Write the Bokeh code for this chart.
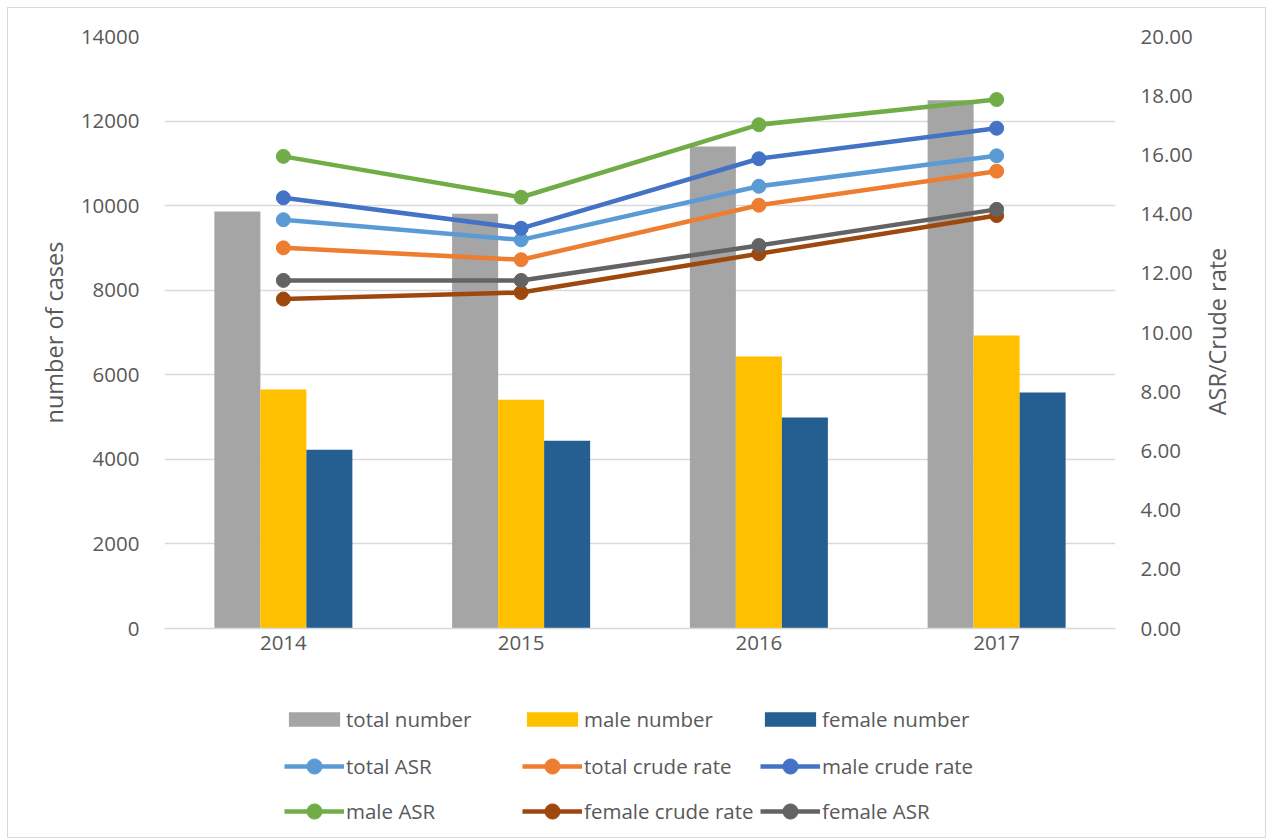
import math
from bokeh.plotting import figure
from bokeh.layouts import column, row
from bokeh.models import (FactorRange, Range1d, LinearAxis, SingleIntervalTicker,
                          NumeralTickFormatter, Legend, LegendItem, Label)
from bokeh.transform import dodge
from bokeh.embed import file_html
from bokeh.resources import INLINE

years = ["2014", "2015", "2016", "2017"]
total_number = [9860, 9810, 11400, 12490]
male_number = [5650, 5410, 6430, 6930]
female_number = [4230, 4440, 4990, 5580]

total_asr = [13.81, 13.13, 14.94, 15.97]
total_crude_rate = [12.86, 12.46, 14.30, 15.45]
male_crude_rate = [14.55, 13.52, 15.87, 16.90]
male_asr = [15.95, 14.57, 17.02, 17.87]
female_crude_rate = [11.13, 11.35, 12.66, 13.95]
female_asr = [11.76, 11.76, 12.94, 14.16]

bar_series = [("total_number", "total number", "#a5a5a5"),
              ("male_number", "male number", "#ffc000"),
              ("female_number", "female number", "#255e91")]
line_series = [("total_asr", "total ASR", "#5b9bd5"),
               ("total_crude_rate", "total crude rate", "#ed7d31"),
               ("male_crude_rate", "male crude rate", "#4472c4"),
               ("male_asr", "male ASR", "#70ad47"),
               ("female_crude_rate", "female crude rate", "#9e480e"),
               ("female_asr", "female ASR", "#636363")]

FONT = "Open Sans"
TXT = "#595959"
GRID = "#d9d9d9"

p = figure(x_range=FactorRange(*years), y_range=Range1d(0, 14000),
           frame_width=951, frame_height=592, output_backend="svg", toolbar_location=None,
           min_border_left=156, min_border_right=80, min_border_top=28, min_border_bottom=60)
p.outline_line_color = None
p.extra_y_ranges = {"rate": Range1d(0, 20)}

p.xgrid.grid_line_color = None
p.ygrid.grid_line_color = GRID
p.ygrid.grid_line_width = 1.3

# left axis
p.yaxis.ticker = SingleIntervalTicker(interval=2000)
p.yaxis.formatter = NumeralTickFormatter(format="0")
p.yaxis.axis_line_color = None
p.yaxis.major_tick_line_color = None
p.yaxis.major_tick_out = 0
p.yaxis.major_tick_in = 0
p.yaxis.minor_tick_line_color = None
p.yaxis.major_label_standoff = 21
p.yaxis.major_label_text_font = FONT
p.yaxis.major_label_text_font_size = "20.5px"
p.yaxis.major_label_text_color = TXT
p.yaxis.axis_label = "number of cases"
p.yaxis.axis_label_text_font = FONT
p.yaxis.axis_label_text_font_size = "23.5px"
p.yaxis.axis_label_text_font_style = "normal"
p.yaxis.axis_label_text_color = TXT
p.yaxis.axis_label_standoff = 8

# x axis
p.xaxis.axis_line_color = GRID
p.xaxis.axis_line_width = 1.3
p.xaxis.major_tick_line_color = None
p.xaxis.major_tick_out = 0
p.xaxis.major_tick_in = 0
p.xaxis.minor_tick_line_color = None
p.xaxis.major_label_standoff = 7
p.xaxis.major_label_text_font = FONT
p.xaxis.major_label_text_font_size = "20.5px"
p.xaxis.major_label_text_color = TXT

# right axis
ra = LinearAxis(y_range_name="rate", ticker=SingleIntervalTicker(interval=2),
                formatter=NumeralTickFormatter(format="0.00"))
ra.axis_line_color = None
ra.major_tick_line_color = None
ra.major_tick_out = 0
ra.major_tick_in = 0
ra.minor_tick_line_color = None
ra.major_label_standoff = 21
ra.major_label_text_font = FONT
ra.major_label_text_font_size = "20.5px"
ra.major_label_text_color = TXT
p.add_layout(ra, "right")

src = dict(year=years, total_number=total_number, male_number=male_number,
           female_number=female_number, total_asr=total_asr,
           total_crude_rate=total_crude_rate, male_crude_rate=male_crude_rate,
           male_asr=male_asr, female_crude_rate=female_crude_rate, female_asr=female_asr)

bw = 0.1935
offsets = [-bw, 0.0, bw]
for (key, _, col), off in zip(bar_series, offsets):
    p.vbar(x=dodge("year", off, range=p.x_range), top=key, width=bw, bottom=0,
           source=src, fill_color=col, line_color=None)

for key, _, col in line_series:
    p.line(x="year", y=key, source=src, line_color=col, line_width=4.5, y_range_name="rate")
    p.scatter(x="year", y=key, source=src, size=14, fill_color=col, line_color=col,
              y_range_name="rate")

# right axis title (reads bottom-to-top); its frame is aligned with the main frame
rl = figure(width=70, height=680, output_backend="svg", toolbar_location=None,
            x_range=Range1d(0, 1), y_range=Range1d(0, 1),
            x_axis_location=None, y_axis_location=None, min_border=0)
rl.grid.visible = False
rl.outline_line_color = None
rl.add_layout(Label(x=21, y=297, x_units="screen", y_units="screen", text="ASR/Crude rate",
                    angle=math.pi / 2, text_align="center", text_baseline="middle",
                    text_font=FONT, text_font_size="23.5px", text_color=TXT))

# legend area (swatch renderers sit outside the visible range)
lf = figure(width=1257, height=149, output_backend="svg", toolbar_location=None,
            x_range=Range1d(0, 1), y_range=Range1d(0, 1),
            x_axis_location=None, y_axis_location=None, min_border=0)
lf.grid.visible = False
lf.outline_line_color = None

bar_items = []
for key, lab, col in bar_series:
    r = lf.vbar(x=[-5], top=[-5], bottom=[-6], width=0.1, fill_color=col, line_color=None)
    bar_items.append(LegendItem(label=lab, renderers=[r]))
line_items = []
for key, lab, col in line_series:
    l = lf.line(x=[-5, -4], y=[-5, -5], line_color=col, line_width=4.5)
    s = lf.scatter(x=[-5], y=[-5], size=14, fill_color=col, line_color=col)
    line_items.append(LegendItem(label=lab, renderers=[l, s]))

legend_style = dict(orientation="horizontal", label_height=18, label_width=172,
                    padding=0, margin=0, border_line_color=None, background_fill_alpha=0,
                    label_text_font=FONT, label_text_font_size="20.5px",
                    label_text_color=TXT)
lf.add_layout(Legend(items=bar_items, location=(274, 104), glyph_width=64, glyph_height=18,
                     label_standoff=0, spacing=2, **legend_style), "center")
lf.add_layout(Legend(items=line_items[0:3], location=(276, 52), glyph_width=60,
                     glyph_height=38, label_standoff=2, spacing=4, **legend_style), "center")
lf.add_layout(Legend(items=line_items[3:6], location=(276, 7), glyph_width=60,
                     glyph_height=38, label_standoff=2, spacing=4, **legend_style), "center")

layout = column(row(p, rl), lf,
                styles={"border": "1px solid #d9d9d9", "margin-left": "7px", "margin-top": "7px"})

open("out.html", "w").write(file_html(layout, INLINE))
